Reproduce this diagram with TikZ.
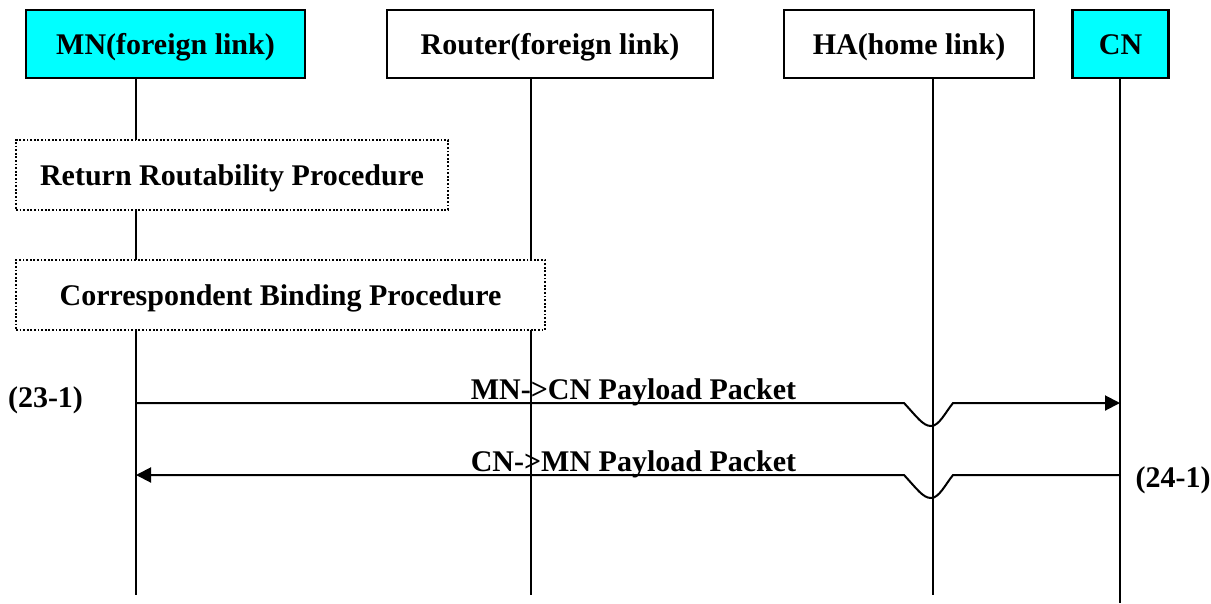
\documentclass[tikz,border=0pt]{standalone}
\usepackage{fontspec}
\setmainfont{Liberation Serif}
\usetikzlibrary{arrows.meta}
\begin{document}
\begin{tikzpicture}[x=1pt,y=-1pt,
  lbl/.style={font=\bfseries\fontsize{30}{36}\selectfont},
  header/.style={lbl, draw, line width=2.5pt, text height=20pt, text depth=0pt, inner sep=0pt, minimum height=68pt},
  proc/.style={lbl, draw, fill=white, line width=2pt, dash pattern=on 1.8pt off 1.8pt, text height=20pt, text depth=0pt, inner sep=0pt, minimum height=70pt},
  life/.style={line width=2pt},
  msg/.style={line width=2pt, -{Triangle[length=15pt,width=15pt]}},
]
\useasboundingbox (0,0) rectangle (1211,603);
% headers
\node[header, fill={rgb,255:red,0;green,255;blue,255}, minimum width=279pt] (mn) at (165.5,44) {MN(foreign link)};
\node[header, fill=white, minimum width=326pt] (rt) at (550,44) {Router(foreign link)};
\node[header, fill=white, minimum width=250pt] (ha) at (909,44) {HA(home link)};
\node[header, fill={rgb,255:red,0;green,255;blue,255}, minimum width=96pt] (cn) at (1120.5,44) {CN};
% lifeline ends
\coordinate (mnB) at (136,595);
\coordinate (rtB) at (531,595);
\coordinate (haB) at (933,595);
\coordinate (cnB) at (1120,603);
\draw[life] (mn.south -| mnB) -- (mnB);
\draw[life] (rt.south -| rtB) -- (rtB);
\draw[life] (ha.south -| haB) -- (haB);
\draw[life] (cn.south -| cnB) -- (cnB);
% procedures
\node[proc, minimum width=432pt] (rr) at (232,175) {Return Routability Procedure};
\node[proc, minimum width=529pt] (cb) at (280.5,295) {Correspondent Binding Procedure};
% messages
\coordinate (m1a) at (136,403);
\coordinate (m1b) at (1120,403);
\coordinate (m2a) at (1120,475);
\coordinate (m2b) at (136,475);
\draw[msg] (m1a) -- (904,403) .. controls (917,417) and (923,426) .. (931,426) .. controls (939,426) and (945,413) .. (953,403) -- (m1b);
\draw[msg] (m2a) -- (953,475) .. controls (945,485) and (939,498) .. (931,498) .. controls (923,498) and (917,489) .. (904,475) -- (m2b);
\node[lbl, anchor=base] (l1) at (633.5,399) {MN->CN Payload Packet};
\node[lbl, anchor=base] (l2) at (633.5,471) {CN->MN Payload Packet};
\node[lbl, anchor=base] (n1) at (45.5,407) {(23-1)};
\node[lbl, anchor=base] (n2) at (1173,487) {(24-1)};
\end{tikzpicture}
\end{document}
